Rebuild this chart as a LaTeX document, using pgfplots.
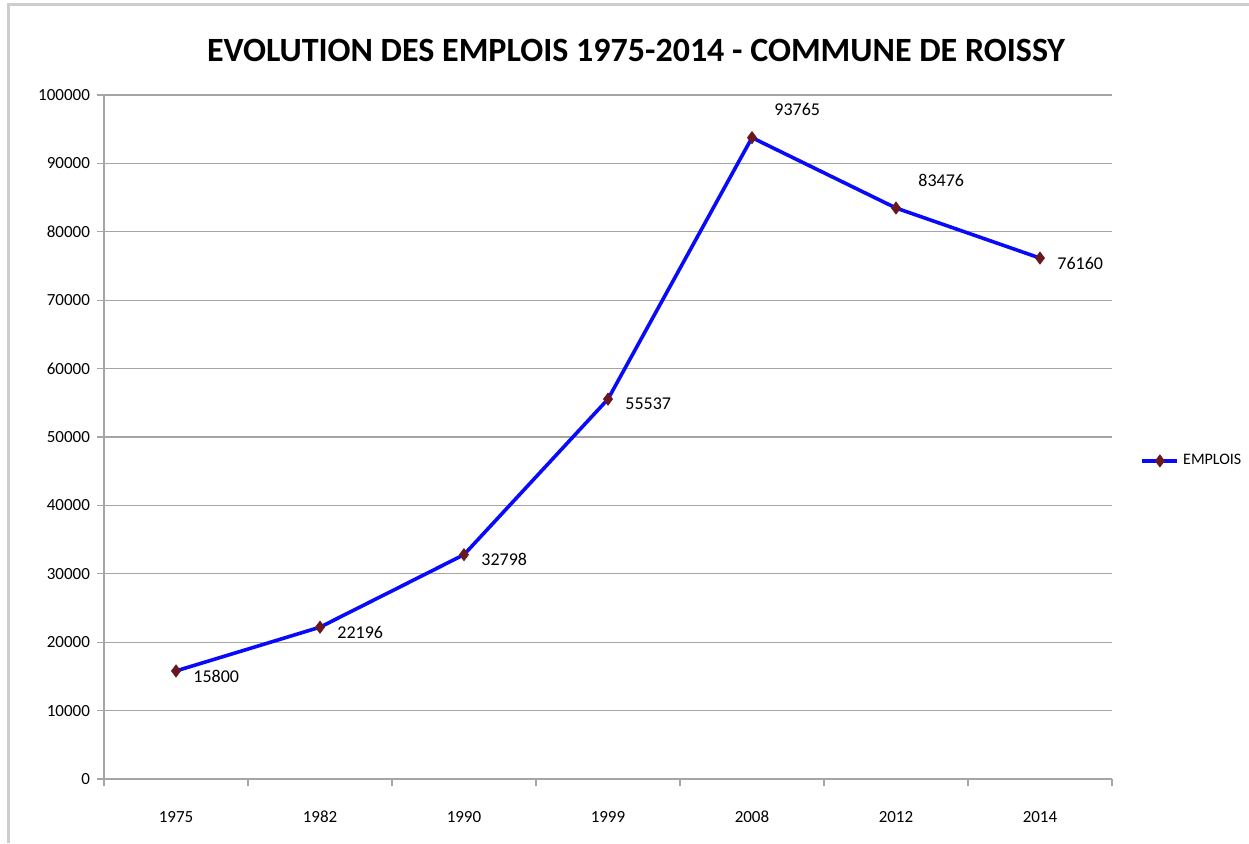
\documentclass[border=0pt]{standalone}
\usepackage{pgfplots}
\pgfplotsset{compat=1.18}
\usepackage{fontspec}
\setmainfont{Carlito}
\definecolor{gridgray}{RGB}{165,165,165}
\definecolor{framegray}{RGB}{205,205,205}
\definecolor{markred}{RGB}{105,25,30}
\definecolor{lineblue}{RGB}{10,10,250}
\begin{document}
\begin{tikzpicture}
\useasboundingbox (0pt,0pt) rectangle (624.5pt,421.5pt);
\draw[line width=1.5pt, framegray] (4pt,0pt) -- (4pt,419pt) -- (624.5pt,419pt);
\node[font=\fontsize{17}{20}\selectfont\bfseries] at (318pt,396.5pt) {EVOLUTION DES EMPLOIS 1975-2014 - COMMUNE DE ROISSY};
\begin{axis}[
  at={(52pt,32pt)}, anchor=south west,
  scale only axis, width=504pt, height=342pt,
  xmin=-0.5, xmax=6.5, ymin=0, ymax=100000,
  axis x line*=bottom, axis y line*=left,
  axis line style={gridgray, line width=0.6pt},
  xtick={0,...,6},
  xticklabels={1975,1982,1990,1999,2008,2012,2014},
  minor xtick={-0.5,0.5,...,6.5},
  ytick={0,10000,...,100000},
  yticklabels={0,10000,20000,30000,40000,50000,60000,70000,80000,90000,100000},
  scaled y ticks=false,
  ymajorgrids, major grid style={gridgray, line width=0.6pt},
  tick align=outside,
  major tick length=3.5pt, minor tick length=3.5pt,
  x tick style={draw=none},
  minor x tick style={draw=gridgray, line width=0.6pt},
  y tick style={gridgray, line width=0.6pt},
  ticklabel style={font=\fontsize{8.5}{10}\selectfont},
  xticklabel style={yshift=-9pt},
  legend style={at={(1.028,0.465)}, anchor=west, draw=none, fill=none,
    font=\fontsize{8}{10}\selectfont, inner sep=0pt},
  legend cell align=left,
  legend image code/.code={\draw[mark repeat=2,mark phase=2,#1] plot coordinates {(0pt,0pt)(8.75pt,0pt)(17.5pt,0pt)};},
  clip=false,
]
\addplot[lineblue, line width=1.8pt, mark=diamond*, mark size=3pt,
  mark options={fill=markred, draw=markred, line width=0.4pt}]
  coordinates {(0,15800) (1,22196) (2,32798) (3,55537) (4,93765) (5,83476) (6,76160)};
\addlegendentry{EMPLOIS}
\addplot[draw=none, forget plot, point meta=explicit symbolic, nodes near coords,
  nodes near coords style={anchor=west, inner sep=0pt, xshift=8.5pt, yshift=-2.5pt,
    font=\fontsize{9}{10}\selectfont}]
  coordinates {(0,15800) [15800] (1,22196) [22196] (2,32798) [32798] (3,55537) [55537] (6,76160) [76160]};
\addplot[draw=none, forget plot, point meta=explicit symbolic, nodes near coords,
  nodes near coords style={anchor=west, inner sep=0pt, xshift=11pt, yshift=14pt,
    font=\fontsize{9}{10}\selectfont}]
  coordinates {(4,93765) [93765] (5,83476) [83476]};
\end{axis}
\end{tikzpicture}
\end{document}
